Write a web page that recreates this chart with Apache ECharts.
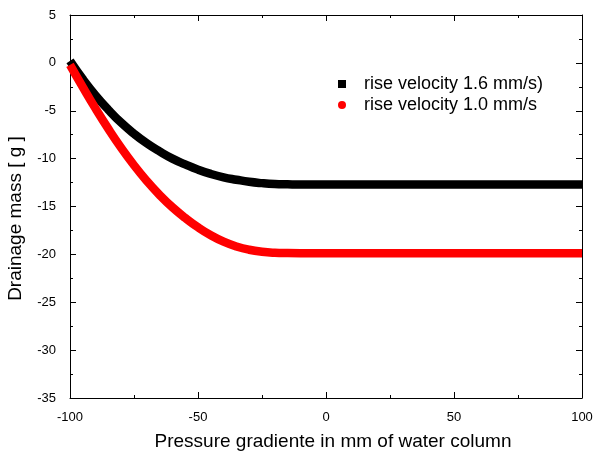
<!DOCTYPE html>
<html>
<head>
<meta charset="utf-8">
<script src="https://cdn.jsdelivr.net/npm/echarts@6/dist/echarts.min.js"></script>
<style>
  html, body { margin: 0; padding: 0; background: #fff; }
  #chart { width: 595px; height: 452px; }
</style>
</head>
<body>
<div id="chart"></div>
<script>
// values
const pressure = [-100, -95, -90, -85, -80, -75, -70, -65, -60, -55, -50, -45, -40, -35, -30, -25, -20, -15, -10, 0, 50, 100]
const fast = [0.2, -1.7, -3.4, -4.9, -6.25, -7.4, -8.4, -9.25, -10.0, -10.6, -11.15, -11.6, -11.95, -12.2, -12.42, -12.56, -12.65, -12.68, -12.7, -12.7, -12.7, -12.7]
const slow = [-0.2, -2.53, -4.78, -6.9, -8.88, -10.69, -12.33, -13.79, -15.08, -16.19, -17.17, -18.0, -18.67, -19.17, -19.52, -19.73, -19.83, -19.86, -19.87, -19.87, -19.87, -19.87]
const seriesNames = ['rise velocity 1.6 mm/s)', 'rise velocity 1.0 mm/s']

const font = 'Liberation Sans, Arial, sans-serif'

function pairs(ys) {
    return pressure.map((x, i) => [x, ys[i]])
}

const chart = echarts.init(document.getElementById('chart'))

const tickStyle = {
    axisLine: { show: true, onZero: false, lineStyle: { color: '#000', width: 1 } },
    axisTick: { show: true, inside: true, length: 6, lineStyle: { color: '#000' } },
    minorTick: { show: true, splitNumber: 2, length: 3, lineStyle: { color: '#000' } },
    splitLine: { show: false }
}

let option = {
    animation: false,
    grid: { left: 70, right: 13, top: 15, bottom: 54, containLabel: false, outerBoundsMode: 'none' },
    legend: {
        left: 333,
        top: 70,
        orient: 'vertical',
        itemGap: 3,
        itemWidth: 8,
        itemHeight: 8,
        textStyle: { fontFamily: font, fontSize: 18, color: '#000', padding: [0, 0, 0, 13] },
        data: [
            { name: seriesNames[0], icon: 'rect' },
            { name: seriesNames[1], icon: 'circle' }
        ]
    },
    xAxis: [
        {
            type: 'value', min: -100, max: 100, interval: 50, position: 'bottom',
            name: 'Pressure gradiente in mm of water column',
            nameLocation: 'middle', nameGap: 34,
            nameTextStyle: { fontFamily: font, fontSize: 19, color: '#000', padding: [0, 0, 0, 14] },
            axisLabel: { fontFamily: font, fontSize: 13, color: '#000', margin: 13 },
            ...tickStyle
        },
        {
            type: 'value', min: -100, max: 100, interval: 50, position: 'top',
            axisLabel: { show: false },
            ...tickStyle
        }
    ],
    yAxis: [
        {
            type: 'value', min: -35, max: 5, interval: 5, position: 'left',
            name: 'Drainage mass [ g ]',
            nameLocation: 'middle', nameGap: 45,
            nameTextStyle: { fontFamily: font, fontSize: 19, color: '#000', padding: [0, 24, 0, 0] },
            axisLabel: { fontFamily: font, fontSize: 13, color: '#000', margin: 14 },
            ...tickStyle
        },
        {
            type: 'value', min: -35, max: 5, interval: 5, position: 'right',
            axisLabel: { show: false },
            ...tickStyle
        }
    ],
    series: [
        {
            name: seriesNames[0],
            type: 'line',
            smooth: true,
            showSymbol: false,
            color: '#000',
            lineStyle: { width: 8.5, color: '#000', join: 'round' },
            data: pairs(fast)
        },
        {
            name: seriesNames[1],
            type: 'line',
            smooth: true,
            showSymbol: false,
            color: '#ff0000',
            lineStyle: { width: 8.5, color: '#ff0000', join: 'round' },
            data: pairs(slow)
        }
    ]
}

chart.setOption(option)
</script>
</body>
</html>
